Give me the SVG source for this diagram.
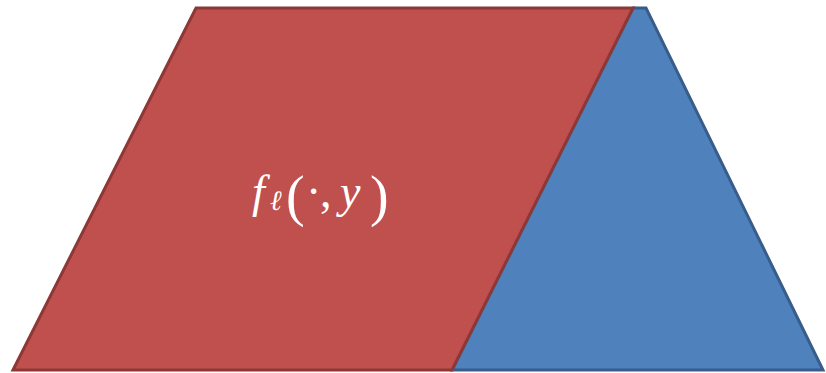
<svg xmlns="http://www.w3.org/2000/svg" width="826" height="373" viewBox="0 0 826 373">
<style>
.red{fill:#C0504D;stroke:#8C3836;stroke-width:3;stroke-linejoin:miter}
.blue{fill:#4F81BD;stroke:#385D8A;stroke-width:3;stroke-linejoin:miter}
.lbl{font-family:"Liberation Serif","DejaVu Serif",serif;font-size:46px;fill:#FFFFFF}
</style>
<g id="blue-shape"><polygon class="blue" points="452,370 633,8 646,8 823,370"/></g>
<g id="red-shape"><polygon class="red" points="13,370 196,8 633,8 452,370"/></g>
<g id="label"><text class="lbl" y="207"><tspan x="252" font-style="italic">f</tspan><tspan x="270" y="210" font-style="italic" font-size="28">ℓ</tspan><tspan x="286" y="215" font-size="56">(</tspan><tspan x="306" y="207">·</tspan><tspan x="320">,</tspan><tspan x="340" font-style="italic">y</tspan><tspan x="370" y="215" font-size="56">)</tspan></text></g>
</svg>
